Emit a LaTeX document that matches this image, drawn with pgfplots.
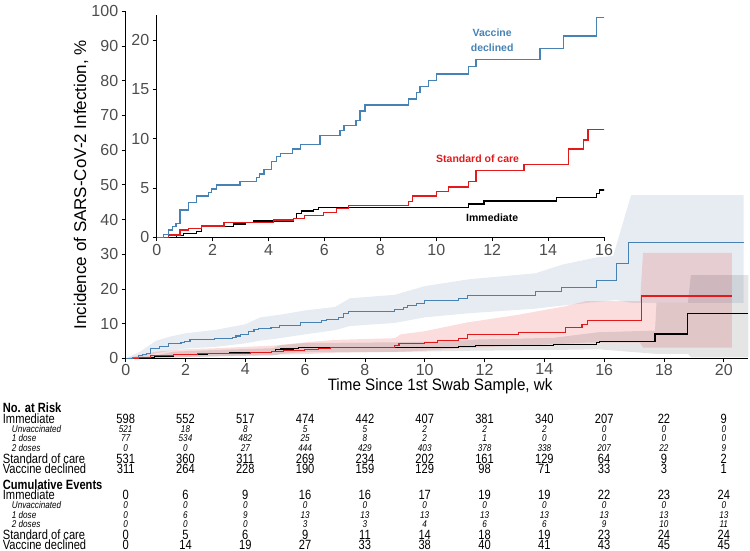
\documentclass[border=0pt]{standalone}
\usepackage{fontspec}
\setmainfont{Liberation Sans}
\newfontfamily\narrowfont{Liberation Sans}[FakeStretch=0.83]
\newfontfamily\semifont{Liberation Sans}[FakeStretch=0.92]
\usepackage{pgfplots}
\usepackage{pgfplotstable}
\pgfplotsset{compat=1.18}
\definecolor{vdblue}{HTML}{4682B4}
\definecolor{bandblue}{RGB}{110,145,180}
\definecolor{socred}{HTML}{E31A1C}
\definecolor{ticklab}{HTML}{4D4D4D}
\newcommand\tabfont{\narrowfont\fontsize{13.4}{13.4}\selectfont}
\newcommand\subfont{\narrowfont\itshape\fontsize{9.8}{9.8}\selectfont}
\newcommand\headfont{\narrowfont\bfseries\fontsize{13.4}{13.4}\selectfont}
\newcommand\annfont{\bfseries\fontsize{10.5}{15}\selectfont}

% Kaplan-Meier curves (week, cumulative incidence %)
\pgfplotstableread{
x y
0 0
0.24 0.3
0.42 0.74
0.57 1.08
0.69 1.42
0.83 2.77
1.13 3.51
1.43 4.19
1.85 4.53
1.97 4.9
2.15 5.3
2.98 5.64
3.58 6.05
3.69 6.42
3.84 6.9
4.11 7.67
4.29 8.18
4.43 8.5
4.86 8.95
5.13 9.43
5.84 10.34
6.56 10.8
6.70 11.3
7.13 11.8
7.27 12.8
7.45 13.4
9.0 14.0
9.28 14.66
9.42 15.27
9.71 15.9
10.0 16.55
11.14 17.3
11.42 18.04
13.71 19.16
14.56 20.4
15.73 22.3
16.42 27.4
16.82 33.3
20.66 33.3
}\vdcurve
\pgfplotstableread{
x y
0 0
0.42 0.24
0.83 0.74
1.13 0.9
1.61 1.15
2.41 1.49
4.17 1.76
4.89 1.93
5.28 2.2
5.98 2.53
6.44 2.9
6.85 3.2
9.0 3.6
9.14 4.19
10.0 4.63
10.43 5.1
11.14 5.64
11.42 6.76
13.14 7.4
14.72 8.95
15.26 9.86
15.43 10.88
17.26 17.95
20.27 17.95
}\soccurve
\pgfplotstableread{
x y
0 0
0.72 0.17
0.95 0.4
1.43 0.57
1.61 1.08
2.74 1.35
3.16 1.49
3.46 1.66
4.89 1.93
5.0 2.43
5.18 2.67
5.6 2.84
5.78 3.04
11.14 3.38
11.71 3.68
14.3 4.02
15.73 4.46
15.83 4.8
17.7 7.0
18.8 12.96
20.82 12.96
}\immcurve

% risk table
\pgfplotstableread{
wk imm unv dA dB soc vd
0 598 521 77 0 531 311
2 552 18 534 0 360 264
4 517 8 482 27 311 228
6 474 5 25 444 269 190
8 442 5 8 429 234 159
10 407 2 2 403 202 129
12 381 2 1 378 161 98
14 340 2 0 338 129 71
16 207 0 0 207 64 33
18 22 0 0 22 9 3
20 9 0 0 9 2 1
}\atrisk
\pgfplotstableread{
wk imm unv dA dB soc vd
0 0 0 0 0 0 0
2 6 0 6 0 5 14
4 9 0 9 0 6 19
6 16 0 13 3 9 27
8 16 0 13 3 11 33
10 17 0 13 4 14 38
12 19 0 13 6 18 40
14 19 0 13 6 19 41
16 22 0 13 9 23 43
18 23 0 13 10 24 45
20 24 0 13 11 24 45
}\events

\newcommand{\tabrow}[4]{\addplot[draw=none, mark=none, nodes near coords, point meta=explicit symbolic,
  every node near coord/.append style={font=#4, anchor=base, inner sep=0pt}]
  table[x=wk, y expr=#3, meta=#2] {#1};}

\begin{document}
\begin{tikzpicture}
\useasboundingbox (0pt,0pt) rectangle (750pt,551pt);

% ---------------- main axis
\begin{axis}[
  at={(125.7pt,192.7pt)}, anchor=south west,
  scale only axis, width=622.6pt, height=347pt,
  xmin=0, xmax=20.82, ymin=0, ymax=100,
  axis lines=left, axis line style={-, line width=0.7pt, black},
  xtick={0,2,...,20}, ytick={0,10,...,100},
  tick align=outside, major tick length=4pt, tick style={line width=0.7pt, black},
  ticklabel style={font=\fontsize{16}{16}\selectfont, text=ticklab},
  xticklabel style={yshift=2pt},
  /pgf/number format/assume math mode=true,
  xlabel={Time Since 1st Swab Sample, wk},
  ylabel={Incidence of SARS-CoV-2 Infection, \%},
  every axis x label/.style={at={(axis description cs:0.505,-0.08)}, anchor=center, font=\semifont\fontsize{16.5}{16.5}\selectfont},
  every axis y label/.style={at={(axis description cs:-0.0718,0.5)}, anchor=center, rotate=90, font=\fontsize{17}{17}\selectfont},
  clip=false,
]
% confidence bands
\addplot[fill=bandblue, fill opacity=0.17, draw=none] coordinates {
(0,0) (0.5,2) (1,5) (1.5,6.3) (2,7.2) (3,8.2) (4,9.8) (4.5,11.8) (5.2,12.6) (6,13.8) (7,14.8) (7.5,17.3) (9,18.3) (10,20.8) (11.5,22.8) (13.7,24.5) (14.6,27) (15.7,29) (16.3,29.5) (16.9,47) (20.66,47)
(20.66,16) (16.9,16) (16.4,16.8) (15.7,16.2) (14.6,15.2) (13.7,14.3) (11.5,13) (10,11.8) (9,10.2) (7.5,9.3) (7,8.1) (6,6.9) (5,5.6) (4.5,5.1) (4,4.3) (3,3.3) (2,2.8) (1.5,2.2) (1,1.4) (0.5,0.2) (0,0)};
\addplot[fill=socred, fill opacity=0.15, draw=none] coordinates {
(0,0) (0.5,0.9) (1,1.9) (2,2.6) (3,2.9) (4,3.3) (5,3.7) (6,4.6) (7,5.3) (9,5.8) (9.2,6.9) (10,7.8) (11.4,10.3) (13.1,12.5) (14.7,15) (15.4,16.5) (17.2,16.5) (17.3,30.4) (20.27,30.4)
(20.27,3.1) (17.3,3.1) (17.2,4.5) (15.4,4.5) (14.7,4.2) (13.1,3.6) (11.4,3.0) (10,2.2) (9.2,1.9) (7,1.6) (6,1.2) (5,1.0) (4,0.8) (3,0.6) (2,0.4) (1,0.1) (0,0)};
\addplot[fill=black, fill opacity=0.10, draw=none] coordinates {
(0,0) (1,0.8) (1.6,1.9) (3,2.4) (4.9,2.9) (5.2,3.8) (6,4.4) (9,4.6) (11.1,5.0) (11.7,5.4) (14.3,5.9) (15.8,7.5) (17.7,8.0) (17.75,16) (18.8,16) (18.9,24) (20.82,24)
(20.82,0.3) (18.9,0.3) (18.8,1.3) (17.7,1.3) (15.8,2.6) (14.3,2.4) (11.7,2.2) (9,1.8) (6,1.8) (5.2,1.3) (4.9,0.8) (3,0.5) (1.6,0.2) (1,0) (0,0)};
% curves
\addplot[const plot, black, line width=1.1pt] table {\immcurve};
\addplot[const plot, socred, line width=1.1pt] table {\soccurve};
\addplot[const plot, vdblue, line width=1.1pt] table {\vdcurve};
\end{axis}

% ---------------- inset
\begin{axis}[
  at={(156.7pt,313.7pt)}, anchor=south west,
  scale only axis, width=447.3pt, height=222.1pt,
  xmin=0, xmax=16, ymin=0, ymax=22.5,
  axis lines=left, axis line style={-, line width=0.7pt, black},
  xtick={0,2,...,16}, ytick={0,5,...,20},
  tick align=outside, major tick length=4pt, tick style={line width=0.7pt, black},
  ticklabel style={font=\fontsize{16}{16}\selectfont, text=ticklab},
  /pgf/number format/assume math mode=true,
]
\addplot[const plot, black, line width=1.2pt] table {\immcurve};
\addplot[const plot, socred, line width=1.2pt] table {\soccurve};
\addplot[const plot, vdblue, line width=1.2pt] table {\vdcurve};
\node[font=\annfont, text=vdblue, align=center] at (axis cs:12,20) {Vaccine\\declined};
\node[font=\annfont, text=socred] at (axis cs:11.48,7.93) {Standard of care};
\node[font=\annfont, text=black] at (axis cs:12,2.0) {Immediate};
\end{axis}

% ---------------- risk table
\begin{axis}[
  at={(125.7pt,0pt)}, anchor=south west,
  scale only axis, width=622.6pt, height=551pt,
  xmin=0, xmax=20.82, ymin=-551, ymax=0,
  hide axis, clip=false,
]
\tabrow{\atrisk}{imm}{-423.8}{\tabfont}
\tabrow{\atrisk}{unv}{-432.6}{\subfont}
\tabrow{\atrisk}{dA}{-441.9}{\subfont}
\tabrow{\atrisk}{dB}{-451.1}{\subfont}
\tabrow{\atrisk}{soc}{-463.5}{\tabfont}
\tabrow{\atrisk}{vd}{-473.9}{\tabfont}
\tabrow{\events}{imm}{-500}{\tabfont}
\tabrow{\events}{unv}{-508.6}{\subfont}
\tabrow{\events}{dA}{-518.3}{\subfont}
\tabrow{\events}{dB}{-527.6}{\subfont}
\tabrow{\events}{soc}{-539.1}{\tabfont}
\tabrow{\events}{vd}{-549.5}{\tabfont}
\end{axis}

% row labels
\begin{scope}[x=1pt,y=1pt]
\node[anchor=base west, inner sep=0pt, font=\headfont] at (2.7,551-412.7) {No. at Risk};
\node[anchor=base west, inner sep=0pt, font=\tabfont] at (2.7,551-423.8) {Immediate};
\node[anchor=base west, inner sep=0pt, font=\subfont] at (11.7,551-432.6) {Unvaccinated};
\node[anchor=base west, inner sep=0pt, font=\subfont] at (11.7,551-441.9) {1 dose};
\node[anchor=base west, inner sep=0pt, font=\subfont] at (11.7,551-451.1) {2 doses};
\node[anchor=base west, inner sep=0pt, font=\tabfont] at (2.7,551-463.5) {Standard of care};
\node[anchor=base west, inner sep=0pt, font=\tabfont] at (2.7,551-473.9) {Vaccine declined};
\node[anchor=base west, inner sep=0pt, font=\headfont] at (2.7,551-489.3) {Cumulative Events};
\node[anchor=base west, inner sep=0pt, font=\tabfont] at (2.7,551-500) {Immediate};
\node[anchor=base west, inner sep=0pt, font=\subfont] at (11.7,551-508.6) {Unvaccinated};
\node[anchor=base west, inner sep=0pt, font=\subfont] at (11.7,551-518.3) {1 dose};
\node[anchor=base west, inner sep=0pt, font=\subfont] at (11.7,551-527.6) {2 doses};
\node[anchor=base west, inner sep=0pt, font=\tabfont] at (2.7,551-539.1) {Standard of care};
\node[anchor=base west, inner sep=0pt, font=\tabfont] at (2.7,551-549.5) {Vaccine declined};
\end{scope}
\end{tikzpicture}
\end{document}
